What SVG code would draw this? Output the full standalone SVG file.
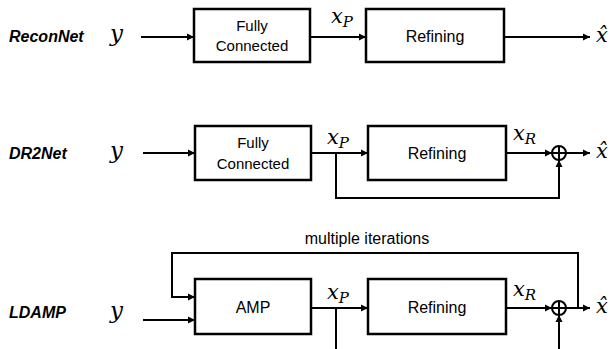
<svg xmlns="http://www.w3.org/2000/svg" width="611" height="349" viewBox="0 0 611 349">
<style>
.box{fill:#fff;stroke:#000;stroke-width:2.5}
.ln{fill:none;stroke:#000;stroke-width:2}
.lbl{font-family:"Liberation Sans",Arial,sans-serif;font-weight:bold;font-style:italic;font-size:16px}
.bt{font-family:"Liberation Sans",Arial,sans-serif;font-size:15px;text-anchor:middle}
.bt2{font-family:"Liberation Sans",Arial,sans-serif;font-size:16px;text-anchor:middle}
.m{font-family:"DejaVu Serif","Liberation Serif",serif;font-style:italic;font-size:21px}
.y{font-size:23px}
.s{font-size:15px}
</style>
<defs>
<marker id="ah" markerWidth="8" markerHeight="8" refX="7" refY="4" orient="auto" markerUnits="userSpaceOnUse">
<path d="M0,0.5 L7,4 L0,7.5 Z" fill="#000"/>
</marker>
</defs>
<g id="labels">
<text class="lbl" x="9" y="42">ReconNet</text>
<text class="lbl" x="9" y="159">DR2Net</text>
<text class="lbl" x="9" y="318">LDAMP</text>
<text class="m y" x="110" y="41">y</text>
<text class="m y" x="110" y="158">y</text>
<text class="m y" x="110" y="318">y</text>
</g>
<g id="connectors">
<line class="ln" x1="141" y1="37" x2="194" y2="37" marker-end="url(#ah)"/>
<line class="ln" x1="310" y1="37" x2="366" y2="37" marker-end="url(#ah)"/>
<line class="ln" x1="504" y1="37" x2="590" y2="37" marker-end="url(#ah)"/>
<line class="ln" x1="143" y1="153" x2="195" y2="153" marker-end="url(#ah)"/>
<line class="ln" x1="311" y1="153" x2="368" y2="153" marker-end="url(#ah)"/>
<line class="ln" x1="506" y1="153" x2="552" y2="153" marker-end="url(#ah)"/>
<polyline class="ln" points="336,153 336,198 559,198 559,160" marker-end="url(#ah)"/>
<line class="ln" x1="566" y1="153" x2="590" y2="153" marker-end="url(#ah)"/>
<line class="ln" x1="143" y1="320" x2="195" y2="320" marker-end="url(#ah)"/>
<polyline class="ln" points="578,308 578,253 172,253 172,297 195,297" marker-end="url(#ah)"/>
<line class="ln" x1="311" y1="308" x2="368" y2="308" marker-end="url(#ah)"/>
<line class="ln" x1="506" y1="308" x2="552" y2="308" marker-end="url(#ah)"/>
<line class="ln" x1="336" y1="308" x2="336" y2="349"/>
<line class="ln" x1="559" y1="349" x2="559" y2="315" marker-end="url(#ah)"/>
<line class="ln" x1="566" y1="308" x2="590" y2="308" marker-end="url(#ah)"/>
</g>
<g id="fc1">
<rect class="box" x="194" y="9" width="116" height="53"/>
<text class="bt" x="252" y="31">Fully</text>
<text class="bt" x="252" y="51">Connected</text>
</g>
<g id="ref1">
<rect class="box" x="366" y="9" width="138" height="53"/>
<text class="bt2" x="435" y="42">Refining</text>
</g>
<g id="fc2">
<rect class="box" x="195" y="126" width="116" height="54"/>
<text class="bt" x="253" y="148">Fully</text>
<text class="bt" x="253" y="169">Connected</text>
</g>
<g id="ref2">
<rect class="box" x="368" y="126" width="138" height="54"/>
<text class="bt2" x="437" y="159">Refining</text>
</g>
<g id="sum2">
<circle cx="559" cy="153" r="7" fill="#fff" stroke="#000" stroke-width="2"/>
<line class="ln" x1="552" y1="153" x2="566" y2="153"/>
<line class="ln" x1="559" y1="146" x2="559" y2="160"/>
</g>
<g id="amp">
<rect class="box" x="195" y="279" width="116" height="55"/>
<text class="bt2" x="253" y="313">AMP</text>
</g>
<g id="ref3">
<rect class="box" x="368" y="279" width="138" height="55"/>
<text class="bt2" x="437" y="313">Refining</text>
</g>
<g id="sum3">
<circle cx="559" cy="308" r="7" fill="#fff" stroke="#000" stroke-width="2"/>
<line class="ln" x1="552" y1="308" x2="566" y2="308"/>
<line class="ln" x1="559" y1="301" x2="559" y2="315"/>
</g>
<g id="math">
<text class="m" x="331" y="23">x<tspan class="s" dy="4">P</tspan></text>
<text class="m" x="596" y="42">x̂</text>
<text class="m" x="327" y="144">x<tspan class="s" dy="4">P</tspan></text>
<text class="m" x="513" y="140">x<tspan class="s" dy="4">R</tspan></text>
<text class="m" x="596" y="158">x̂</text>
<text class="m" x="327" y="299">x<tspan class="s" dy="4">P</tspan></text>
<text class="m" x="513" y="296">x<tspan class="s" dy="4">R</tspan></text>
<text class="m" x="596" y="313">x̂</text>
<text class="bt2" x="367" y="244">multiple iterations</text>
</g>
</svg>
